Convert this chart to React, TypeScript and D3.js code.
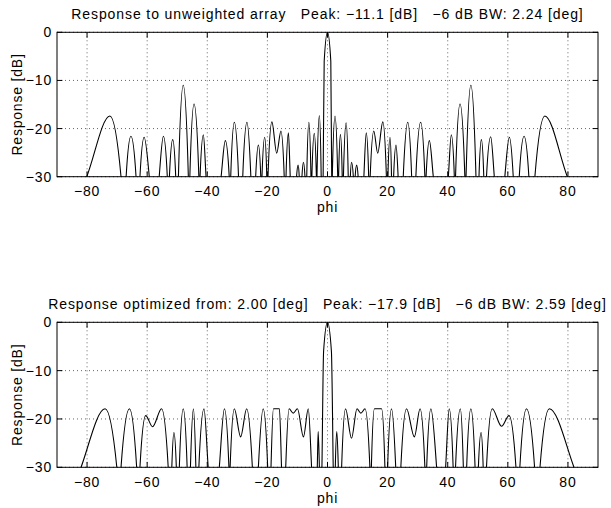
import React from "react";
import * as d3 from "d3";

const xTicks = [-80, -60, -40, -20, 0, 20, 40, 60, 80];
const yTicks = [0, -10, -20, -30];

// Top panel: unweighted array response (phi [deg], response [dB]); values below -30 are nulls outside the axes
const topPhi = [
  -90,
  -80.1, -72.4, -68.7, -67.85,
  -67.0, -65.4, -63.7, -63.05,
  -62.4, -61.0, -59.3, -57.6,
  -56.0, -54.6, -53.3, -52.95,
  -52.6, -51.5, -50.5, -50.05,
  -49.6, -48.0, -46.3, -46.05,
  -45.8, -44.4, -42.8, -42.6,
  -42.4, -41.3, -40.4, -37.9,
  -35.4, -34.0, -32.7, -32.45,
  -32.2, -31.0, -29.6, -28.9,
  -28.2, -26.8, -25.5, -24.7,
  -23.9, -23.0, -22.2, -22.0,
  -21.8, -20.9, -20.2, -20.0,
  -19.8, -18.5, -16.9, -15.5, -14.4, -14.1,
  -13.8, -13.0, -12.4, -11.35,
  -10.3, -9.8, -9.4, -8.95,
  -8.5, -8.0, -7.5, -7.2,
  -6.9, -6.2, -5.5, -5.35,
  -5.2, -4.4, -3.7, -3.6,
  -3.5, -2.7, -2.1, -1.8,
  -1.45, -1.1, 0, 1.1, 1.4, 1.5,
  1.6, 2.5, 3.4, 3.55,
  3.7, 4.3, 4.9, 5.1,
  5.3, 6.2, 6.9, 7.25,
  7.6, 8.0, 8.6, 8.9,
  9.2, 9.7, 10.2, 11.15,
  12.1, 12.9, 13.7, 13.95,
  14.2, 15.4, 16.7, 18.4, 19.6, 19.85,
  20.1, 20.8, 21.3, 21.65,
  22.0, 22.8, 23.5, 24.35,
  25.2, 26.7, 28.0, 28.7,
  29.4, 31.0, 32.4, 32.6,
  32.8, 33.9, 35.2, 37.7,
  40.2, 41.2, 42.2, 42.4,
  42.6, 44.1, 45.7, 45.9,
  46.1, 47.7, 49.4, 49.9,
  50.4, 51.2, 52.0, 52.45,
  52.9, 54.3, 55.5, 57.25,
  59.0, 60.5, 61.8, 62.8,
  63.8, 65.4, 67.0, 68.0,
  69.0, 72.3, 79.8,
  90,
];
const topDb = [
  -45,
  -30, -17.4, -30, -45,
  -30, -21.6, -30, -45,
  -30, -21.8, -30, -45,
  -30, -21.6, -30, -45,
  -30, -22.3, -30, -45,
  -30, -11.0, -30, -45,
  -30, -14.9, -30, -45,
  -30, -21.3, -30, -45,
  -30, -22.5, -30, -45,
  -30, -18.7, -30, -45,
  -30, -18.7, -30, -45,
  -30, -23.4, -30, -45,
  -30, -21.8, -30, -45,
  -30, -18.6, -25.1, -20.5, -30, -45,
  -30, -20.9, -30, -45,
  -30, -27.6, -30, -45,
  -30, -27.0, -30, -45,
  -30, -18.7, -30, -45,
  -30, -21.0, -30, -45,
  -30, -17.3, -30, -45,
  -30, -6, 0, -6, -30, -45,
  -30, -17.4, -30, -45,
  -30, -21.2, -30, -45,
  -30, -18.8, -30, -45,
  -30, -27.0, -30, -45,
  -30, -27.6, -30, -45,
  -30, -20.9, -30, -45,
  -30, -20.5, -25.1, -18.6, -30, -45,
  -30, -21.8, -30, -45,
  -30, -23.4, -30, -45,
  -30, -18.7, -30, -45,
  -30, -18.7, -30, -45,
  -30, -22.5, -30, -45,
  -30, -21.3, -30, -45,
  -30, -14.9, -30, -45,
  -30, -11.0, -30, -45,
  -30, -22.3, -30, -45,
  -30, -21.7, -30, -45,
  -30, -21.8, -30, -45,
  -30, -21.6, -30, -45,
  -30, -17.4, -30,
  -45,
];

// Bottom panel: optimized response
const bottomPhi = [
  -90,
  -82.0, -74.0, -70.1, -69.4,
  -68.7, -65.9, -63.5, -62.95,
  -62.4, -60.5, -58.2, -55.2, -53.0, -52.4,
  -51.8, -51.1, -50.3, -49.8,
  -49.3, -48.0, -46.7, -46.15,
  -45.6, -44.6, -43.8, -43.3,
  -42.8, -41.1, -39.7, -37.85,
  -36.0, -34.3, -32.8, -32.6,
  -32.4, -31.0, -28.9, -26.9, -25.0, -24.0,
  -23.0, -21.4, -19.9, -19.35,
  -18.8, -18.0, -16.0, -15.3, -14.6,
  -13.9, -12.8, -11.4, -10.0, -8.0, -6.4, -5.3, -4.3,
  -3.4, -3.1, -2.7, -2.25,
  -1.85, -1.3, 0, 1.3, 1.9, 2.25,
  2.6, 3.1, 3.6, 4.15,
  4.7, 6.0, 8.0, 9.8, 11.1, 12.5, 14.1, 14.35,
  14.6, 15.6, 18.0, 19.1, 19.55,
  20.0, 21.3, 22.7, 23.55,
  24.4, 26.3, 28.9, 30.8, 32.4, 32.7,
  33.0, 34.4, 36.3, 37.8,
  39.3, 40.5, 41.8, 42.2,
  42.6, 44.2, 45.2, 45.75,
  46.3, 47.7, 49.1, 49.65,
  50.2, 51.1, 51.8, 52.35,
  52.9, 54.8, 57.9, 60.4, 62.7, 63.35,
  64.0, 66.2, 68.9, 69.8,
  70.7, 73.8, 82.0,
  90,
];
const bottomDb = [
  -45,
  -30, -17.9, -30, -45,
  -30, -17.9, -30, -45,
  -30, -19.3, -21.6, -17.9, -30, -45,
  -30, -22.8, -30, -45,
  -30, -17.9, -30, -45,
  -30, -17.9, -30, -45,
  -30, -17.9, -30, -45,
  -30, -17.9, -30, -45,
  -30, -17.9, -23.7, -17.9, -30, -45,
  -30, -17.9, -30, -45,
  -30, -17.9, -17.9, -30, -45,
  -30, -17.9, -18.8, -17.9, -23.7, -17.9, -30, -45,
  -30, -22.6, -30, -45,
  -30, -6, 0, -6, -30, -45,
  -30, -22.6, -30, -45,
  -30, -17.9, -24.0, -17.9, -18.8, -17.9, -30, -45,
  -30, -17.9, -17.9, -30, -45,
  -30, -17.9, -30, -45,
  -30, -17.9, -23.7, -17.9, -30, -45,
  -30, -17.9, -30, -45,
  -30, -17.9, -30, -45,
  -30, -17.9, -30, -45,
  -30, -17.9, -30, -45,
  -30, -22.8, -30, -45,
  -30, -17.9, -21.5, -19.3, -30, -45,
  -30, -17.9, -30, -45,
  -30, -17.9, -30,
  -45,
];

const topTitle = "Response to unweighted array   Peak: \u221211.1 [dB]   \u22126 dB BW: 2.24 [deg]";
const bottomTitle = "Response optimized from: 2.00 [deg]   Peak: \u221217.9 [dB]   \u22126 dB BW: 2.59 [deg]";
const yLabel = "Response [dB]";
const xLabel = "phi";

const W = 611;
const H = 508;
const LEFT = 57;
const RIGHT = 598;
const FONT = "'Liberation Sans', Arial, Helvetica, sans-serif";
const TICK = 5.4;

function fmt(v: number) {
  return v < 0 ? "\u2212" + Math.abs(v) : String(v);
}

function Panel({ top, bottom, phi, db, title, id }: { top: number; bottom: number; phi: number[]; db: number[]; title: string; id: string }) {
  const x = d3.scaleLinear().domain([-90, 90]).range([LEFT, RIGHT]);
  const y = d3.scaleLinear().domain([-30, 0]).range([bottom, top]);
  const pts = phi.map((p, i) => [p, db[i]] as [number, number]);
  const line = d3
    .line<[number, number]>()
    .x((d) => x(d[0]))
    .y((d) => y(d[1]))
    .curve(d3.curveMonotoneX);
  const cx = (LEFT + RIGHT) / 2;
  const cy = (top + bottom) / 2;
  return (
    <g>
      <defs>
        <clipPath id={id}>
          <rect x={LEFT} y={top - 1} width={RIGHT - LEFT} height={bottom - top + 1} />
        </clipPath>
      </defs>
      {xTicks.map((t) => (
        <line key={"gx" + t} x1={x(t)} x2={x(t)} y1={top} y2={bottom} stroke="#666" strokeWidth={1} strokeDasharray="1,3" />
      ))}
      {yTicks.map((t) => (
        <line key={"gy" + t} x1={LEFT} x2={RIGHT} y1={y(t)} y2={y(t)} stroke="#666" strokeWidth={1} strokeDasharray="1,3" />
      ))}
      <path d={line(pts) || ""} fill="none" stroke="#000" strokeWidth={1.1} clipPath={`url(#${id})`} />
      <rect x={LEFT} y={top} width={RIGHT - LEFT} height={bottom - top} fill="none" stroke="#000" strokeWidth={1} />
      {xTicks.map((t) => (
        <g key={"tx" + t}>
          <line x1={x(t)} x2={x(t)} y1={bottom} y2={bottom - TICK} stroke="#000" />
          <line x1={x(t)} x2={x(t)} y1={top} y2={top + TICK} stroke="#000" />
          <text x={x(t)} y={bottom + 19.4} textAnchor="middle">{fmt(t)}</text>
        </g>
      ))}
      {yTicks.map((t) => (
        <g key={"ty" + t}>
          <line x1={LEFT} x2={LEFT + TICK} y1={y(t)} y2={y(t)} stroke="#000" />
          <line x1={RIGHT} x2={RIGHT - TICK} y1={y(t)} y2={y(t)} stroke="#000" />
          <text x={LEFT - 5} y={y(t)} dy="0.36em" textAnchor="end">{fmt(t)}</text>
        </g>
      ))}
      <text x={cx} y={bottom + 35.7} textAnchor="middle">{xLabel}</text>
      <text transform={`translate(21.5,${cy}) rotate(-90)`} textAnchor="middle">{yLabel}</text>
      <text x={cx} y={top - 13.3} textAnchor="middle" letterSpacing={0.9} style={{ whiteSpace: "pre" }}>{title}</text>
    </g>
  );
}

export default function App() {
  return (
    <svg
      width={W}
      height={H}
      viewBox={`0 0 ${W} ${H}`}
      style={{ position: "absolute", left: 0, top: 0, background: "#fff" }}
      fontFamily={FONT}
      fontSize={14}
      letterSpacing={0.8}
    >
      <rect x={0} y={0} width={W} height={H} fill="#fff" />
      <Panel top={32.3} bottom={176.7} phi={topPhi} db={topDb} title={topTitle} id="clipTop" />
      <Panel top={322.3} bottom={467.3} phi={bottomPhi} db={bottomDb} title={bottomTitle} id="clipBottom" />
    </svg>
  );
}
